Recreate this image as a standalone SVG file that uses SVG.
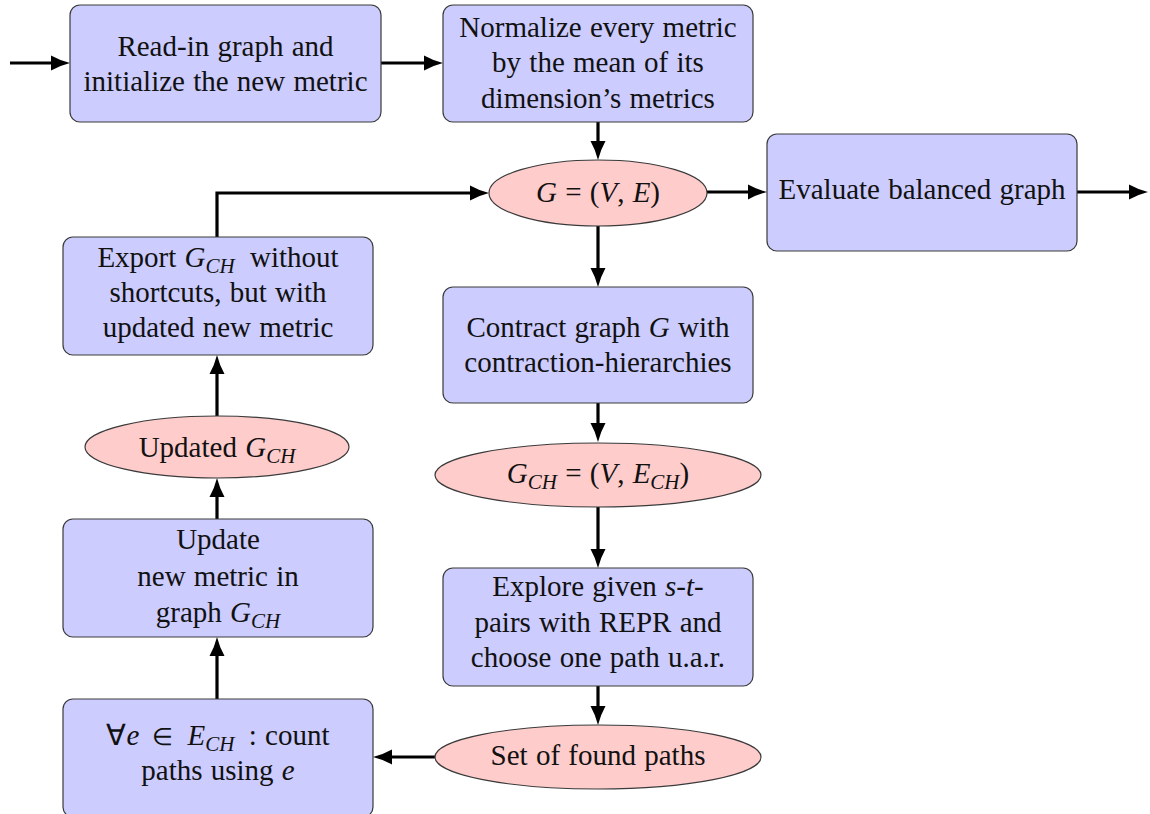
<svg xmlns="http://www.w3.org/2000/svg" width="1150" height="814" viewBox="0 0 1150 814">
<style>
.box{fill:#ccccff;stroke:#3a3a3a;stroke-width:1.2}
.ell{fill:#ffcccc;stroke:#3a3a3a;stroke-width:1.2}
text{font-family:"Liberation Serif","Times New Roman",serif;font-size:29px;fill:#111;text-anchor:middle;word-spacing:1px}
.i{font-style:italic}
.s{font-style:italic;font-size:21px}
.c{fill:none;stroke:#000;stroke-width:3.2;marker-end:url(#ah)}
</style>
<defs>
<marker id="ah" markerUnits="userSpaceOnUse" markerWidth="22" markerHeight="18" viewBox="0 -9 22 18" refX="1" refY="0" orient="auto">
<path d="M0,-7.5 Q9,-2.5 19,0 Q9,2.5 0,7.5 z" fill="#000"/>
</marker>
</defs>
<g id="connectors">
<path class="c" d="M10,63 H52"/>
<path class="c" d="M381,63 H425"/>
<path class="c" d="M598,122 V142"/>
<path class="c" d="M217,237 V193 H471"/>
<path class="c" d="M707,192 H749"/>
<path class="c" d="M1077,192 H1130"/>
<path class="c" d="M598,226 V269"/>
<path class="c" d="M598,403 V424"/>
<path class="c" d="M598,507 V550"/>
<path class="c" d="M598,686 V707"/>
<path class="c" d="M435,757 H391"/>
<path class="c" d="M217,699 V655"/>
<path class="c" d="M217,519 V496"/>
<path class="c" d="M217,416 V373"/>
</g>
<g id="read">
<rect class="box" x="70" y="5" width="311" height="117" rx="10"/>
<text x="225.5" y="56">Read-in graph and</text>
<text x="225.5" y="91">initialize the new metric</text>
</g>
<g id="normalize">
<rect class="box" x="443" y="5" width="310" height="117" rx="10"/>
<text x="598" y="37">Normalize every metric</text>
<text x="598" y="72">by the mean of its</text>
<text x="598" y="108">dimension’s metrics</text>
</g>
<g id="G">
<ellipse class="ell" cx="598" cy="193" rx="109" ry="33"/>
<text x="598" y="202"><tspan class="i">G</tspan> = (<tspan class="i">V</tspan>, <tspan class="i">E</tspan>)</text>
</g>
<g id="evaluate">
<rect class="box" x="767" y="134" width="310" height="117" rx="10"/>
<text x="922" y="199">Evaluate balanced graph</text>
</g>
<g id="export">
<rect class="box" x="63" y="237" width="310" height="118" rx="10"/>
<text x="218" y="267">Export <tspan class="i">G</tspan><tspan class="s" baseline-shift="-6">CH</tspan><tspan dx="7"> without</tspan></text>
<text x="218" y="302">shortcuts, but with</text>
<text x="218" y="337">updated new metric</text>
</g>
<g id="contract">
<rect class="box" x="443" y="287" width="310" height="116" rx="10"/>
<text x="598" y="337">Contract graph <tspan class="i">G</tspan> with</text>
<text x="598" y="372">contraction-hierarchies</text>
</g>
<g id="updatedGCH">
<ellipse class="ell" cx="217" cy="447" rx="132" ry="31"/>
<text x="217" y="457">Updated <tspan class="i">G</tspan><tspan class="s" baseline-shift="-6">CH</tspan></text>
</g>
<g id="GCH">
<ellipse class="ell" cx="598" cy="475" rx="163" ry="32"/>
<text x="598" y="483"><tspan class="i">G</tspan><tspan class="s" baseline-shift="-6">CH</tspan> = (<tspan class="i">V</tspan>, <tspan class="i">E</tspan><tspan class="s" baseline-shift="-6">CH</tspan>)</text>
</g>
<g id="update">
<rect class="box" x="63" y="519" width="310" height="118" rx="10"/>
<text x="218" y="549">Update</text>
<text x="218" y="586">new metric in</text>
<text x="218" y="622">graph <tspan class="i">G</tspan><tspan class="s" baseline-shift="-6">CH</tspan></text>
</g>
<g id="explore">
<rect class="box" x="443" y="568" width="310" height="118" rx="10"/>
<text x="598" y="596">Explore given <tspan class="i">s</tspan>-<tspan class="i">t</tspan>-</text>
<text x="598" y="632">pairs with REPR and</text>
<text x="598" y="667">choose one path u.a.r.</text>
</g>
<g id="count">
<rect class="box" x="63" y="699" width="310" height="118" rx="10"/>
<text x="218" y="745">∀<tspan class="i">e</tspan><tspan dx="6" font-size="24"> ∈</tspan><tspan dx="6"> </tspan><tspan class="i">E</tspan><tspan class="s" baseline-shift="-6">CH</tspan><tspan dx="6"> : count</tspan></text>
<text x="218" y="780">paths using <tspan class="i">e</tspan></text>
</g>
<g id="found">
<ellipse class="ell" cx="598" cy="757" rx="163" ry="32"/>
<text x="598" y="765">Set of found paths</text>
</g>
</svg>
